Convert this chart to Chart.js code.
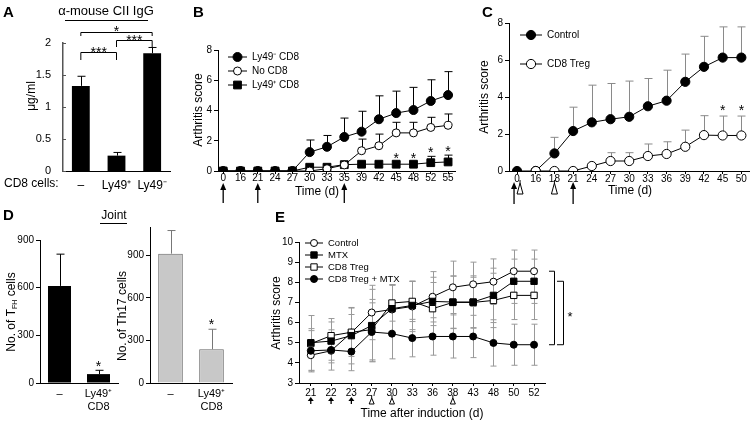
<!DOCTYPE html>
<html>
<head>
<meta charset="utf-8">
<script src="https://cdn.jsdelivr.net/npm/chart.js@4.4.0/dist/chart.umd.min.js"></script>
<style>
  body { margin: 0; background: #fff; }
  #wrap { position: relative; width: 755px; height: 425px; overflow: hidden; background: #fff; }
  canvas { position: absolute; }
</style>
</head>
<body>
<div id="wrap">
  <canvas id="chartA" width="190" height="210" style="left:0;top:0"></canvas>
  <canvas id="chartB" width="280" height="210" style="left:190px;top:0"></canvas>
  <canvas id="chartC" width="285" height="210" style="left:470px;top:0"></canvas>
  <canvas id="chartD1" width="130" height="225" style="left:0;top:200px"></canvas>
  <canvas id="chartD2" width="140" height="225" style="left:112px;top:200px"></canvas>
  <canvas id="chartE" width="505" height="215" style="left:250px;top:210px"></canvas>
</div>
<script>
// ---- data ----
const groupsA = ["–", "Ly49⁺", "Ly49⁻"];
const iggA = [1.33, 0.24, 1.84];
const iggErrA = [0.15, 0.05, 0.09];

const daysB = ["0", "16", "21", "24", "27", "30", "33", "35", "39", "42", "45", "48", "52", "55"];
const ly49negB = [0, 0, 0, 0, 0, 1.25, 1.6, 2.25, 2.6, 3.42, 3.83, 4.03, 4.63, 5.02];
const ly49negErrB = [0, 0, 0, 0, 0, 0.8, 0.75, 1.25, 1.35, 1.55, 1.45, 1.5, 1.4, 1.55];
const noCd8B = [0, 0, 0, 0, 0, 0, 0.15, 0.4, 1.34, 1.67, 2.52, 2.52, 2.88, 3.02];
const noCd8ErrB = [0, 0, 0, 0, 0, 0, 0, 0, 0.77, 0.77, 0.7, 0.7, 0.67, 0.75];
const ly49posB = [0, 0, 0, 0, 0, 0.25, 0.25, 0.42, 0.45, 0.45, 0.45, 0.45, 0.55, 0.6];
const ly49posErrB = [0, 0, 0, 0, 0, 0, 0, 0, 0, 0, 0.15, 0.15, 0.42, 0.45];
const starsB = [10, 11, 12, 13];
const arrowsB = [0, 2, 7];

const daysC = ["0", "16", "18", "21", "24", "27", "30", "33", "36", "39", "42", "45", "50"];
const controlC = [0, 0, 0.95, 2.16, 2.63, 2.8, 2.93, 3.5, 3.8, 4.82, 5.63, 6.13, 6.13];
const controlErrC = [0, 0, 0.87, 1.29, 2.01, 1.93, 1.93, 1.5, 1.65, 1.5, 1.65, 1.66, 1.66];
const tregC = [null, 0, 0, 0, 0.27, 0.54, 0.54, 0.81, 0.92, 1.31, 1.94, 1.92, 1.92];
const tregErrC = [0, 0, 0, 0, 0, 0.45, 0.45, 0.65, 0.66, 0.9, 1.05, 1.05, 1.05];
const starsC = [11, 12];
const arrowsC = [0, 3];
const trianglesC = [0, 2];

const groupsD = ["–", ["Ly49⁺", "CD8"]];
const tfhD = [611, 56];
const tfhErrD = [200, 24];
const th17D = [912, 238];
const th17ErrD = [163, 141];

const daysE = ["21", "22", "23", "27", "30", "33", "36", "38", "43", "48", "50", "52"];
const controlE = [4.38, 4.6, 5.5, 6.5, 6.65, 6.8, 7.28, 7.75, 7.9, 8.03, 8.55, 8.55];
const controlErrE = [0.75, 0.6, 0.9, 1.35, 1.2, 1.25, 1.25, 1.3, 1.1, 1.13, 1.05, 1.05];
const mtxE = [5.0, 5.08, 5.35, 5.85, 6.69, 6.85, 7.05, 7.02, 7.02, 7.35, 8.05, 8.05];
const mtxErrE = [0.7, 0.95, 1.4, 1.8, 1.2, 1.2, 1.2, 1.3, 1.3, 1.35, 1.1, 1.1];
const tregE = [4.95, 5.35, 5.52, 5.65, 6.97, 7.05, 6.69, 7.0, 7.0, 7.1, 7.35, 7.35];
const tregErrE = [1.4, 0.85, 1.2, 1.5, 0.9, 1.0, 1.3, 1.3, 1.25, 1.35, 1.2, 1.2];
const tregMtxE = [4.6, 4.64, 4.56, 5.53, 5.45, 5.23, 5.31, 5.31, 5.31, 4.99, 4.9, 4.9];
const tregMtxErrE = [1.0, 1.0, 0.95, 1.45, 1.25, 0.93, 0.93, 1.07, 1.05, 1.15, 1.02, 1.02];
const arrowsE = [0, 1, 2];
const trianglesE = [3, 4, 7];

// ---- common setup ----
const FONT = "'Liberation Sans', Arial, Helvetica, sans-serif";
Chart.defaults.font.family = FONT;
Chart.defaults.color = "#000";
Chart.defaults.animation = false;
Chart.defaults.responsive = false;
Chart.defaults.events = [];
Chart.defaults.plugins.legend.display = false;
Chart.defaults.plugins.tooltip.enabled = false;

function text(ctx, s, x, y, size, opts = {}) {
  ctx.save();
  ctx.font = (opts.bold ? "bold " : "") + size + "px " + FONT;
  ctx.fillStyle = "#000";
  ctx.textAlign = opts.align || "left";
  ctx.textBaseline = opts.baseline || "alphabetic";
  ctx.translate(x, y);
  if (opts.rotate) ctx.rotate(opts.rotate);
  ctx.fillText(s, 0, 0);
  ctx.restore();
}

function star(ctx, s, x, cy, size) {
  // place the glyph so its visual centre sits on cy
  text(ctx, s, x, cy + size * 0.58, size, { align: "center" });
}

function path(ctx, pts, color, w) {
  ctx.save();
  ctx.strokeStyle = color || "#000";
  ctx.lineWidth = w || 1;
  ctx.beginPath();
  pts.forEach((p, i) => i ? ctx.lineTo(p[0], p[1]) : ctx.moveTo(p[0], p[1]));
  ctx.stroke();
  ctx.restore();
}

function arrowUp(ctx, x, tip, base, hw, hh) {
  ctx.save();
  ctx.fillStyle = "#000";
  path(ctx, [[x, base], [x, tip + hh]], "#000", 1.3);
  ctx.beginPath();
  ctx.moveTo(x, tip);
  ctx.lineTo(x - hw, tip + hh);
  ctx.lineTo(x + hw, tip + hh);
  ctx.closePath();
  ctx.fill();
  ctx.restore();
}

function openTri(ctx, x, top, base, hw) {
  path(ctx, [[x, top - 3], [x, top]]);
  path(ctx, [[x, top], [x - hw, base], [x + hw, base], [x, top]]);
}

function ytitle(ctx, s, x, y, size) {
  text(ctx, s, x, y, size, { align: "center", baseline: "middle", rotate: -Math.PI / 2 });
}

// error bars, drawn behind lines or on top of bars
function drawErr(chart, after) {
  const ctx = chart.ctx;
  chart.data.datasets.forEach((ds, di) => {
    if (!ds.err) return;
    const meta = chart.getDatasetMeta(di);
    if ((meta.type === "bar") !== after) return;
    const ys = chart.scales[meta.yAxisID];
    ctx.save();
    ctx.strokeStyle = ds.errColor || "#000";
    ctx.lineWidth = 1;
    meta.data.forEach((el, i) => {
      const d = ds.data[i];
      const v = d !== null && typeof d === "object" ? d.y : d;
      const e = ds.err[i];
      if (v == null || !e) return;
      const x = Math.round(el.x) + 0.5;
      const cap = ds.errCap || 4;
      const yt = ys.getPixelForValue(v + e);
      const yb = ds.errBoth ? ys.getPixelForValue(v - e) : ys.getPixelForValue(v);
      ctx.beginPath();
      ctx.moveTo(x, yb);
      ctx.lineTo(x, yt);
      ctx.moveTo(x - cap, yt);
      ctx.lineTo(x + cap, yt);
      if (ds.errBoth) {
        ctx.moveTo(x - cap, yb);
        ctx.lineTo(x + cap, yb);
      }
      ctx.stroke();
    });
    ctx.restore();
  });
}
Chart.register({
  id: "errorBars",
  beforeDatasetsDraw(chart) { drawErr(chart, false); },
  afterDatasetsDraw(chart) { drawErr(chart, true); }
});

function legend(ctx, items, x, y, dy, len, size) {
  items.forEach((ds, k) => {
    const yy = y + k * dy;
    path(ctx, [[x, yy], [x + len, yy]]);
    ctx.save();
    ctx.fillStyle = ds.pointBackgroundColor;
    ctx.strokeStyle = "#000";
    ctx.lineWidth = 1;
    Chart.helpers.drawPoint(ctx, { pointStyle: ds.pointStyle, radius: ds.pointRadius, rotation: 0, borderWidth: 1 }, x + len / 2, yy);
    ctx.restore();
    text(ctx, ds.label, x + len + 5, yy, size, { baseline: "middle" });
  });
}

function yAxis(min, max, step, width, size) {
  return {
    min: min, max: max,
    ticks: { stepSize: step, includeBounds: false, font: { size: size || 10 }, padding: 2, callback: v => String(v) },
    grid: { drawOnChartArea: false, tickLength: 4, color: "#000" },
    border: { color: "#000" },
    afterFit: s => { s.width = width; }
  };
}

function xDays(labels, min, max, pad) {
  return {
    type: "linear", min: min, max: max,
    ticks: {
      stepSize: 1, includeBounds: false, autoSkip: false, maxRotation: 0,
      font: { size: 10 }, padding: pad,
      callback: v => labels[v] ?? ""
    },
    grid: { drawOnChartArea: false, tickLength: 3, color: "#000" },
    border: { color: "#000" },
    afterFit: s => { s.height = 30; }
  };
}

function xGroups(size, height, pad) {
  return {
    grid: { display: false },
    border: { color: "#000" },
    ticks: { font: { size: size }, padding: pad, maxRotation: 0 },
    afterFit: s => { s.height = height; }
  };
}

function series(label, vals, errs, style) {
  return Object.assign({
    label: label,
    data: vals.map((v, i) => ({ x: i, y: v })),
    err: errs,
    borderColor: "#000",
    borderWidth: 1,
    pointBorderColor: "#000",
    pointBorderWidth: 1,
    tension: 0,
    spanGaps: true
  }, style);
}

// ---- A ----
const yA = yAxis(0, 2, 0.5, 30, 11);
yA.grid = { display: false };
yA.border = { color: "#555", width: 1.5 };
yA.ticks.padding = 4;
new Chart(document.getElementById("chartA"), {
  type: "bar",
  data: {
    labels: groupsA,
    datasets: [{ data: iggA, err: iggErrA, backgroundColor: "#000", barPercentage: 1, categoryPercentage: 0.5 }]
  },
  options: {
    layout: { padding: { left: 33, top: 43, right: 20, bottom: 9 } },
    scales: { x: xGroups(12, 30, -1), y: yA }
  },
  plugins: [{
    id: "annA",
    afterDraw(chart) {
      const ctx = chart.ctx, xs = chart.scales.x, ys = chart.scales.y;
      const c = i => xs.getPixelForValue(i);
      // inward tick marks on the y axis
      ys.ticks.forEach(t => {
        const y = Math.round(ys.getPixelForValue(t.value)) + 0.5;
        path(ctx, [[ys.right, y], [ys.right + 3, y]], "#555");
      });
      text(ctx, "A", 3, 17, 15, { bold: true });
      text(ctx, "α-mouse CII IgG", 106, 15, 13, { align: "center" });
      path(ctx, [[65, 20.5], [148, 20.5]]);
      path(ctx, [[c(0), 36], [c(0), 32.5], [c(2), 32.5], [c(2), 36]]);
      star(ctx, "*", (c(0) + c(2)) / 2, 28, 14);
      path(ctx, [[c(1), 47], [c(1), 40.5], [c(2), 40.5], [c(2), 48]]);
      star(ctx, "***", (c(1) + c(2)) / 2, 36.5, 14);
      path(ctx, [[c(0), 60], [c(0), 52.5], [c(1), 52.5], [c(1), 60]]);
      star(ctx, "***", (c(0) + c(1)) / 2, 49, 14);
      text(ctx, "CD8 cells:", 4, 187, 12);
      ytitle(ctx, "μg/ml", 32, 96, 12);
    }
  }]
});

// ---- B ----
const dsB = [
  series("Ly49⁻ CD8", ly49negB, ly49negErrB, { pointStyle: "circle", pointRadius: 4.5, pointBackgroundColor: "#000" }),
  series("No CD8", noCd8B, noCd8ErrB, { pointStyle: "circle", pointRadius: 4, pointBackgroundColor: "#fff" }),
  series("Ly49⁺ CD8", ly49posB, ly49posErrB, { pointStyle: "rect", pointRadius: 5.5, pointBackgroundColor: "#000" })
];
new Chart(document.getElementById("chartB"), {
  type: "line",
  data: { datasets: dsB },
  options: {
    layout: { padding: { left: 14, top: 50, right: 15, bottom: 9 } },
    scales: { x: xDays(daysB, -0.3, 13.4, -2), y: yAxis(0, 8, 2, 14) }
  },
  plugins: [{
    id: "annB",
    afterDraw(chart) {
      const ctx = chart.ctx, xs = chart.scales.x, ys = chart.scales.y;
      text(ctx, "B", 3, 17, 15, { bold: true });
      ytitle(ctx, "Arthritis score", 9, 110, 12);
      text(ctx, "Time (d)", 127, 192, 12, { align: "center", baseline: "middle" });
      arrowsB.forEach(i => arrowUp(ctx, xs.getPixelForValue(i), 183, 203, 3, 7));
      starsB.forEach(i => star(ctx, "*", xs.getPixelForValue(i), ys.getPixelForValue(ly49posB[i] + ly49posErrB[i]) - 7, 14));
      legend(ctx, dsB, 38, 57, 14, 19, 10);
    }
  }]
});

// ---- C ----
const dsC = [
  series("CD8 Treg", tregC, tregErrC, { pointStyle: "circle", pointRadius: 4.6, pointBackgroundColor: "#fff", errColor: "#8a8a8a" }),
  series("Control", controlC, controlErrC, { pointStyle: "circle", pointRadius: 4.6, pointBackgroundColor: "#000", errColor: "#8a8a8a" })
];
new Chart(document.getElementById("chartC"), {
  type: "line",
  data: { datasets: dsC },
  options: {
    layout: { padding: { left: 23, top: 23, right: 5, bottom: 9 } },
    scales: { x: xDays(daysC, -0.43, 12.43, -1), y: yAxis(0, 8, 2, 16) }
  },
  plugins: [{
    id: "annC",
    afterDraw(chart) {
      const ctx = chart.ctx, xs = chart.scales.x, ys = chart.scales.y;
      text(ctx, "C", 12, 17, 15, { bold: true });
      ytitle(ctx, "Arthritis score", 15, 97, 12);
      text(ctx, "Time (d)", 160, 191, 12, { align: "center", baseline: "middle" });
      arrowsC.forEach(i => arrowUp(ctx, xs.getPixelForValue(i) - (i === 0 ? 3 : 0), 182, 204, 3, 7));
      trianglesC.forEach(i => openTri(ctx, xs.getPixelForValue(i) + (i === 0 ? 3 : 0), 183, 194, 3));
      starsC.forEach(i => star(ctx, "*", xs.getPixelForValue(i), ys.getPixelForValue(tregC[i] + tregErrC[i]) - 9, 14));
      legend(ctx, [dsC[1], dsC[0]], 50, 35, 29, 22, 10);
    }
  }]
});

// ---- D ----
new Chart(document.getElementById("chartD1"), {
  type: "bar",
  data: {
    labels: groupsD,
    datasets: [{ data: tfhD, err: tfhErrD, backgroundColor: "#000", barPercentage: 1, categoryPercentage: 0.59 }]
  },
  options: {
    layout: { padding: { left: 13, top: 40, right: 12, bottom: 7 } },
    scales: { x: xGroups(11, 35, -4), y: yAxis(0, 900, 300, 27) }
  },
  plugins: [{
    id: "annD1",
    afterDraw(chart) {
      const ctx = chart.ctx, xs = chart.scales.x, ys = chart.scales.y;
      text(ctx, "D", 3, 20, 15, { bold: true });
      text(ctx, "Joint", 114, 19, 12, { align: "center" });
      path(ctx, [[100, 23.5], [127, 23.5]]);
      // y title with subscript
      ctx.save();
      ctx.translate(12, 112);
      ctx.rotate(-Math.PI / 2);
      ctx.fillStyle = "#000";
      ctx.textBaseline = "middle";
      const p1 = "No. of T", p2 = "FH", p3 = " cells";
      ctx.font = "12px " + FONT;
      const w1 = ctx.measureText(p1).width, w3 = ctx.measureText(p3).width;
      ctx.font = "7px " + FONT;
      const w2 = ctx.measureText(p2).width;
      let x0 = -(w1 + w2 + w3) / 2;
      ctx.font = "12px " + FONT;
      ctx.fillText(p1, x0, 0);
      ctx.font = "7px " + FONT;
      ctx.fillText(p2, x0 + w1, 3);
      ctx.font = "12px " + FONT;
      ctx.fillText(p3, x0 + w1 + w2, 0);
      ctx.restore();
      star(ctx, "*", xs.getPixelForValue(1), ys.getPixelForValue(tfhD[1] + tfhErrD[1]) - 7, 14);
    }
  }]
});

new Chart(document.getElementById("chartD2"), {
  type: "bar",
  data: {
    labels: groupsD,
    datasets: [{ data: th17D, err: th17ErrD, errColor: "#777", backgroundColor: "#c8c8c8", borderColor: "#666", borderWidth: 1, barPercentage: 1, categoryPercentage: 0.6 }]
  },
  options: {
    layout: { padding: { left: 12, top: 27, right: 20, bottom: 7 } },
    scales: { x: xGroups(11, 35, -4), y: yAxis(0, 1100, 300, 26) }
  },
  plugins: [{
    id: "annD2",
    afterDraw(chart) {
      const ctx = chart.ctx, xs = chart.scales.x, ys = chart.scales.y;
      ytitle(ctx, "No. of Th17 cells", 11, 116, 12);
      star(ctx, "*", xs.getPixelForValue(1), ys.getPixelForValue(th17D[1] + th17ErrD[1]) - 8, 14);
    }
  }]
});

// ---- E ----
const dsE = [
  series("Control", controlE, controlErrE, { order: 3, pointStyle: "circle", pointRadius: 3.5, pointBackgroundColor: "#fff", errBoth: true, errCap: 3, errColor: "#999" }),
  series("MTX", mtxE, mtxErrE, { order: 1, pointStyle: "rect", pointRadius: 4.5, pointBackgroundColor: "#000", errBoth: true, errCap: 3, errColor: "#999" }),
  series("CD8 Treg", tregE, tregErrE, { order: 2, pointStyle: "rect", pointRadius: 4.5, pointBackgroundColor: "#fff", errBoth: true, errCap: 3, errColor: "#999" }),
  series("CD8 Treg + MTX", tregMtxE, tregMtxErrE, { order: 0, pointStyle: "circle", pointRadius: 3.5, pointBackgroundColor: "#000", errBoth: true, errCap: 3, errColor: "#999" })
];
new Chart(document.getElementById("chartE"), {
  type: "line",
  data: { datasets: dsE },
  options: {
    layout: { padding: { left: 29, top: 32, right: 210, bottom: 12 } },
    scales: { x: xDays(daysE, -0.58, 11.54, 1), y: yAxis(3, 10, 1, 20) }
  },
  plugins: [{
    id: "annE",
    afterDraw(chart) {
      const ctx = chart.ctx, xs = chart.scales.x, ys = chart.scales.y, r = chart.chartArea.right;
      const last = daysE.length - 1;
      text(ctx, "E", 25, 12, 15, { bold: true });
      ytitle(ctx, "Arthritis score", 27, 103, 12);
      text(ctx, "Time after induction (d)", 172, 204, 12, { align: "center", baseline: "middle" });
      arrowsE.forEach(i => arrowUp(ctx, xs.getPixelForValue(i), 187, 194, 3, 4));
      trianglesE.forEach(i => openTri(ctx, xs.getPixelForValue(i), 188, 194, 2.5));
      const yc = ys.getPixelForValue(controlE[last]);
      const ym = ys.getPixelForValue(mtxE[last]);
      const yb = ys.getPixelForValue(tregMtxE[last]);
      path(ctx, [[r + 4, yc], [r + 9.5, yc], [r + 9.5, yb], [r + 4, yb]]);
      path(ctx, [[r + 12, ym], [r + 18.5, ym], [r + 18.5, yb], [r + 12, yb]]);
      star(ctx, "*", r + 25, (ym + yb) / 2, 13);
      legend(ctx, dsE, 55, 33, 12, 18, 9.5);
    }
  }]
});
</script>
</body>
</html>
